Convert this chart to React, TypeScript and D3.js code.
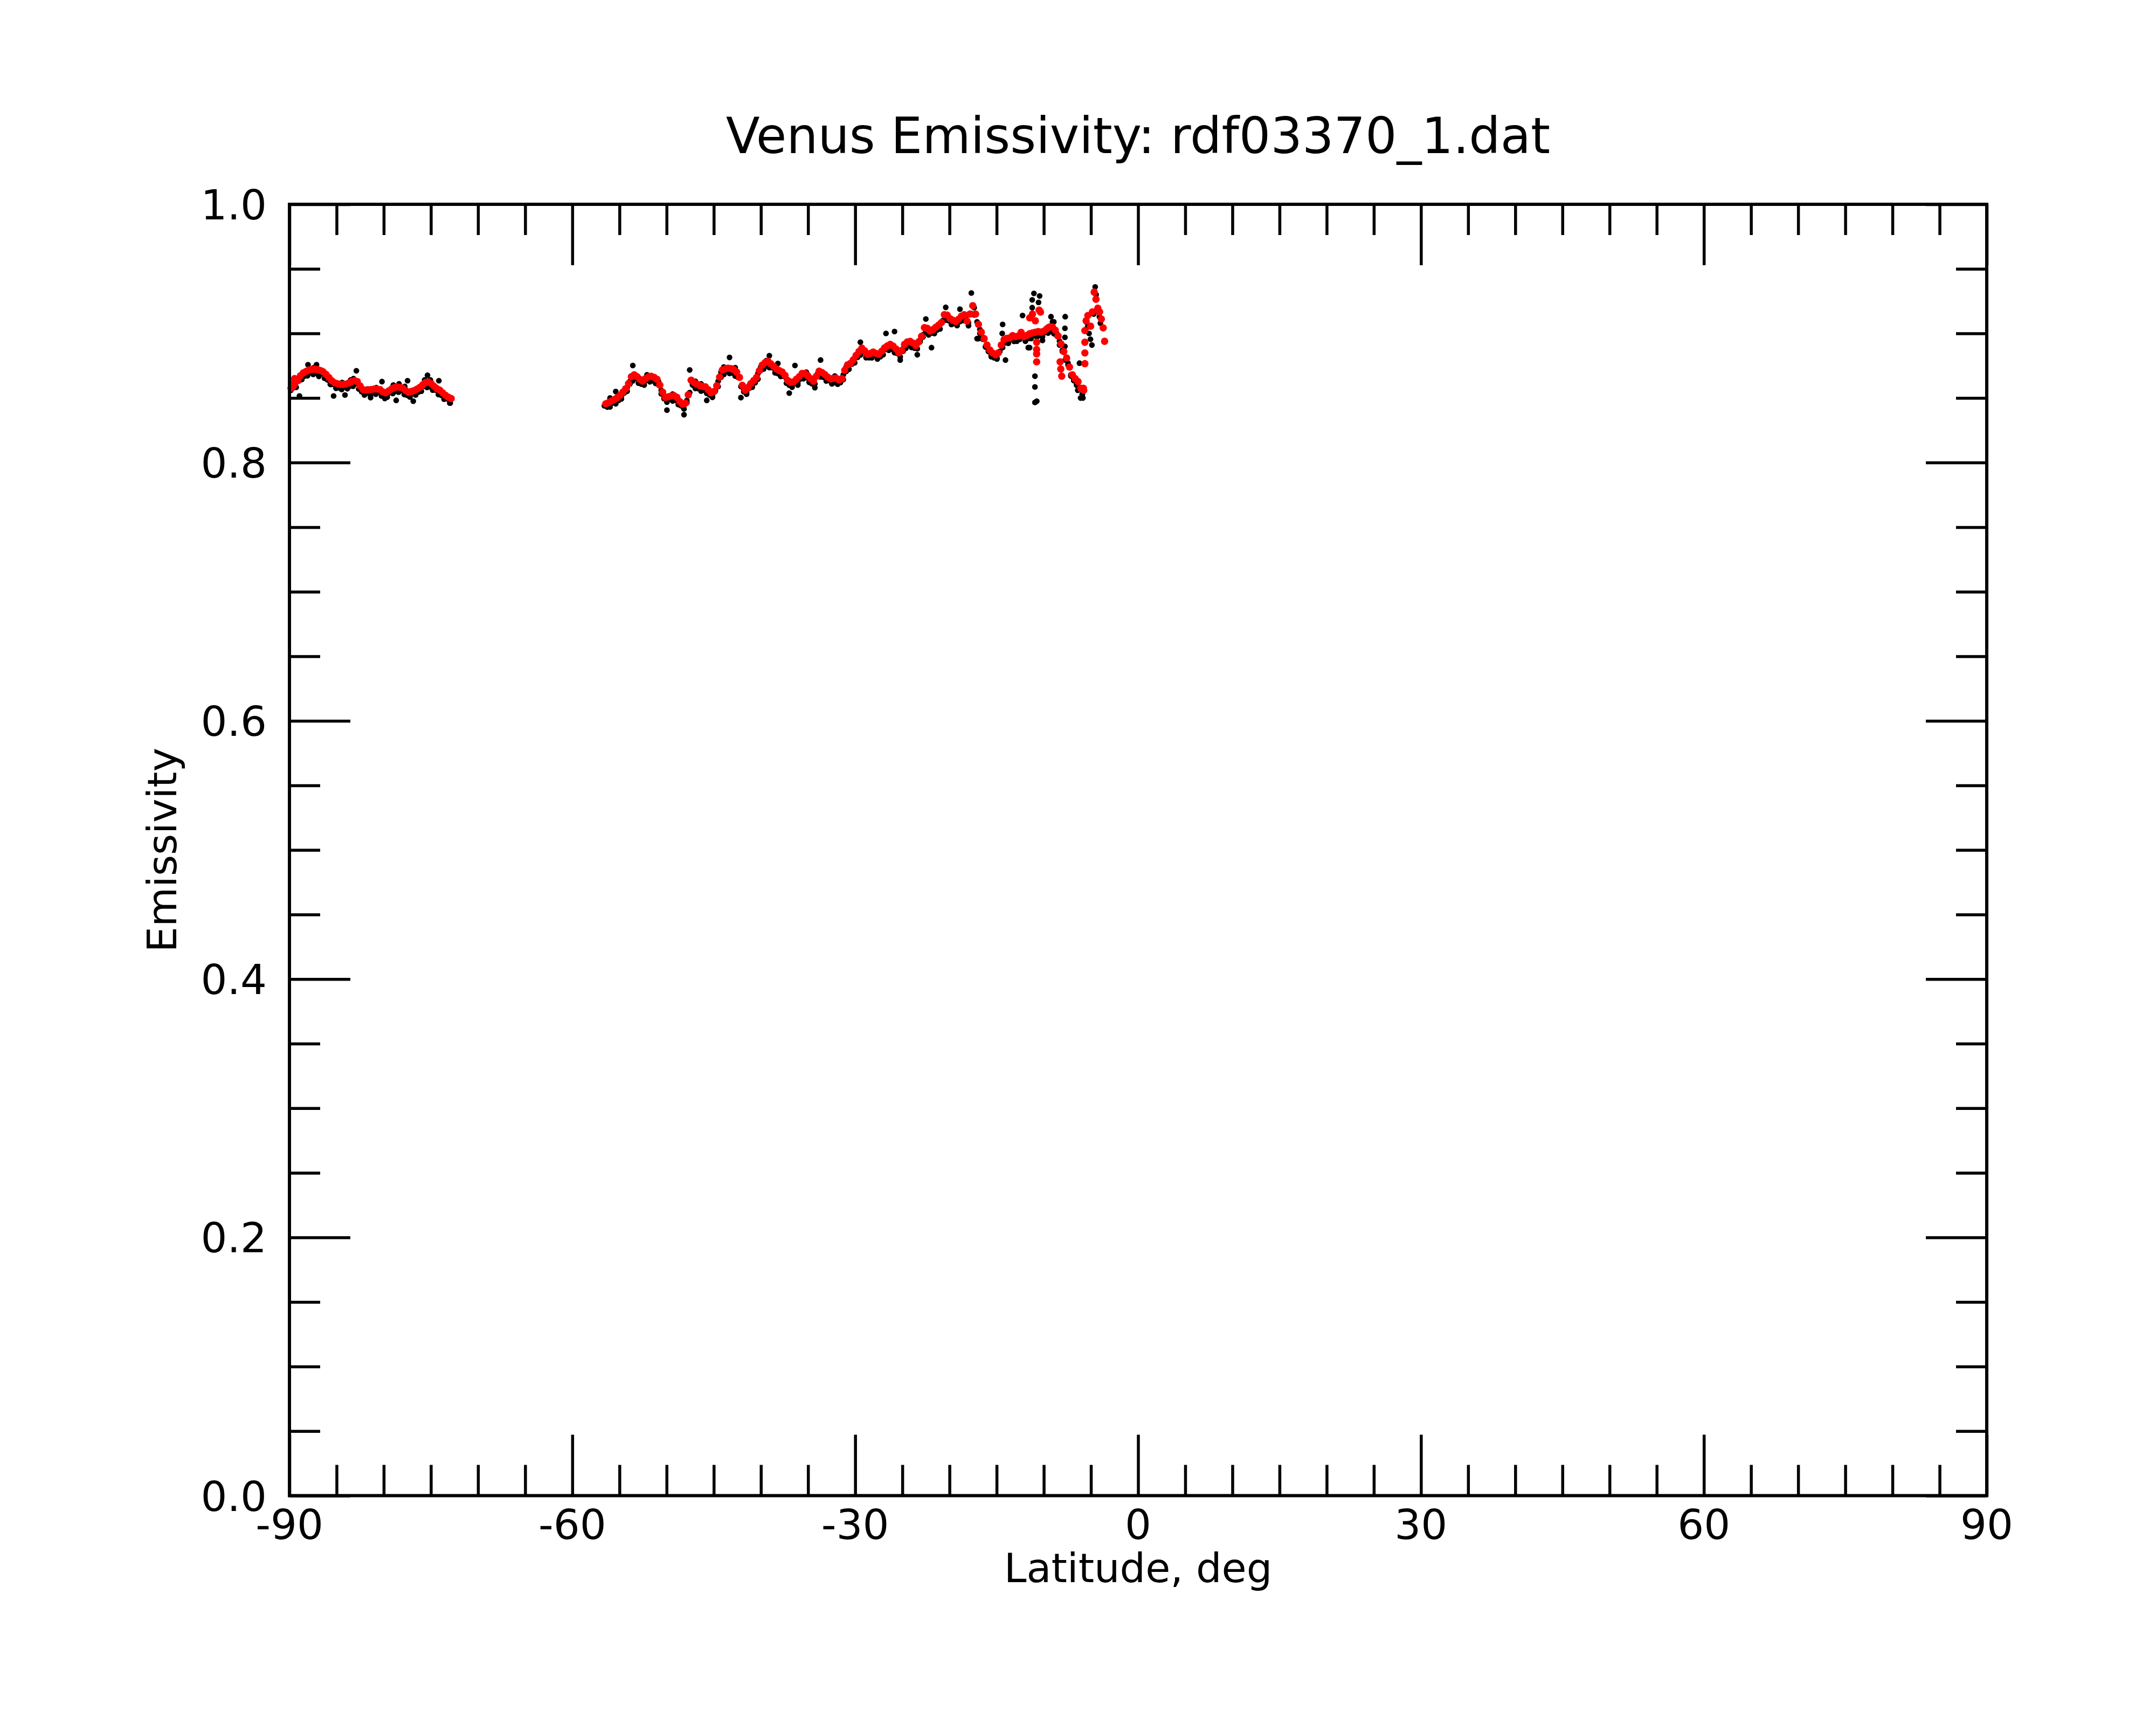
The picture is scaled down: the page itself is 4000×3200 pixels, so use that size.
import { useEffect, useRef } from "react";
import * as d3 from "d3";

// sampling of the emissivity profile (deg latitude)
const LAT_STEP = 0.3017;
const SOUTH_BLACK_START = -89.842;
const SOUTH_RED_START = -89.742;
const SOUTH_SHADOW_START = -89.591;
const MID_BLACK_START = -56.604;
const MID_RED_START = -56.453;
const MID_SHADOW_START = -56.302;

// raw emissivity, south polar segment
const southRaw = [
  0.856, 0.8625, 0.864, 0.8516, 0.868, 0.87, 0.8758, 0.8705, 0.8735, 0.8758,
  0.869, 0.8712, 0.867, 0.864, 0.8605, 0.8516, 0.86, 0.859, 0.862, 0.8523,
  0.86, 0.864, 0.865, 0.8711, 0.86, 0.8555, 0.854, 0.857, 0.8503, 0.856,
  0.858, 0.855, 0.8627, 0.8496, 0.853, 0.856, 0.86, 0.8482, 0.861, 0.857,
  0.859, 0.8634, 0.853, 0.8475, 0.8545, 0.856, 0.859, 0.864, 0.8676, 0.864,
  0.86, 0.8575, 0.8634, 0.853, 0.852, 0.8495, 0.8461,
];

// raw emissivity lying just under the smoothed curve, south polar segment
const southShadow = [
  0.8579, 0.8583, 0.8633, 0.8643, 0.867, 0.8672, 0.8699, 0.8683, 0.8692, 0.8667,
  0.8688, 0.8653, 0.8641, 0.8607, 0.8606, 0.8575, 0.8579, 0.8566, 0.8587, 0.8572,
  0.8592, 0.8591, 0.8611, 0.857, 0.8549, 0.8523, 0.8542, 0.8525, 0.8538, 0.853,
  0.8547, 0.8516, 0.8514, 0.8507, 0.8542, 0.8535, 0.8553, 0.8545, 0.856, 0.8527,
  0.8521, 0.8508, 0.8534, 0.8523, 0.8546, 0.8553, 0.8591, 0.8582, 0.8587, 0.8561,
  0.8561, 0.8527, 0.8521, 0.8491, 0.8494, 0.8461,
];

// smoothed emissivity, south polar segment
const southSmooth = [
  0.8606, 0.8611, 0.8634, 0.8672, 0.8694, 0.8706, 0.8717, 0.8721, 0.8724, 0.872,
  0.8713, 0.8703, 0.8683, 0.8659, 0.8634, 0.8618, 0.8611, 0.8606, 0.8605, 0.8608,
  0.8616, 0.8627, 0.8634, 0.8627, 0.8593, 0.8565, 0.8561, 0.8563, 0.8566, 0.857,
  0.8569, 0.8565, 0.8547, 0.854, 0.8554, 0.8569, 0.858, 0.8586, 0.8583, 0.8576,
  0.8558, 0.8544, 0.8551, 0.8557, 0.8569, 0.8583, 0.8602, 0.862, 0.8623, 0.8611,
  0.859, 0.8572, 0.8561, 0.854, 0.8521, 0.8506, 0.8496,
];

// raw emissivity, mid-latitude segment
const midRaw = [
  0.844, 0.8455, 0.85, 0.847, 0.855, 0.8495, 0.8515, 0.856, 0.858, 0.863,
  0.8752, 0.866, 0.864, 0.861, 0.8625, 0.868, 0.865, 0.8665, 0.862, 0.863,
  0.856, 0.85, 0.8406, 0.8495, 0.853, 0.849, 0.847, 0.844, 0.8371, 0.848,
  0.8717, 0.86, 0.863, 0.8575, 0.861, 0.856, 0.8482, 0.855, 0.852, 0.856,
  0.863, 0.87, 0.874, 0.871, 0.8814, 0.87, 0.8735, 0.866, 0.8503, 0.857,
  0.8545, 0.86, 0.862, 0.865, 0.869, 0.874, 0.876, 0.879, 0.8828, 0.874,
  0.872, 0.8767, 0.869, 0.868, 0.865, 0.8538, 0.861, 0.8752, 0.86, 0.867,
  0.868, 0.87, 0.864, 0.862, 0.858, 0.869, 0.8794, 0.868, 0.865, 0.864,
  0.861, 0.867, 0.863, 0.862, 0.868, 0.874, 0.876, 0.877, 0.881, 0.884,
  0.8932, 0.886, 0.882, 0.883, 0.884, 0.883, 0.881, 0.884, 0.887, 0.9,
  0.89, 0.891, 0.9015, 0.886, 0.8794, 0.888, 0.892, 0.893, 0.892, 0.89,
  0.8835, 0.895, 0.899, 0.9112, 0.901, 0.889, 0.903, 0.904, 0.907, 0.91,
  0.9202, 0.913, 0.909, 0.908, 0.9085, 0.9188, 0.913, 0.913, 0.906, 0.9313,
  0.92, 0.896, 0.903, 0.897, 0.89, 0.886, 0.883, 0.882, 0.881, 0.886,
  0.907, 0.8794, 0.895, 0.896, 0.898, 0.894, 0.899, 0.9139, 0.896, 0.889,
  0.9, 0.931, 0.8475, 0.929, 0.8946, 0.902, 0.905, 0.913, 0.909, 0.9,
  0.894, 0.887, 0.913, 0.877, 0.868, 0.864, 0.861, 0.877, 0.853,
];

// raw emissivity lying just under the smoothed curve, mid-latitude segment
const midShadow = [
  0.843, 0.8431, 0.8463, 0.8455, 0.8481, 0.8493, 0.8539, 0.8552, 0.8609, 0.8633,
  0.8653, 0.8615, 0.8608, 0.86, 0.8637, 0.8626, 0.8634, 0.8613, 0.8603, 0.8533,
  0.8495, 0.8468, 0.8493, 0.8477, 0.8482, 0.8449, 0.8442, 0.8416, 0.8463, 0.8542,
  0.8609, 0.8574, 0.8573, 0.8554, 0.8569, 0.8536, 0.8523, 0.8505, 0.8553, 0.8589,
  0.866, 0.8682, 0.8709, 0.869, 0.8694, 0.867, 0.866, 0.8589, 0.8549, 0.853,
  0.8576, 0.8584, 0.8618, 0.8646, 0.8714, 0.8725, 0.875, 0.8735, 0.8735, 0.8695,
  0.8689, 0.8667, 0.8669, 0.8615, 0.8599, 0.8584, 0.8615, 0.8615, 0.8648, 0.865,
  0.8661, 0.8621, 0.861, 0.8609, 0.8668, 0.8663, 0.866, 0.8632, 0.8635, 0.861,
  0.8623, 0.8607, 0.8625, 0.8643, 0.8706, 0.8723, 0.8762, 0.8773, 0.8815, 0.8833,
  0.8856, 0.8812, 0.8812, 0.8811, 0.8831, 0.8802, 0.882, 0.8835, 0.8876, 0.887,
  0.8879, 0.8851, 0.8845, 0.8819, 0.8862, 0.8885, 0.8916, 0.8892, 0.8886, 0.8881,
  0.8937, 0.8972, 0.9013, 0.8989, 0.9004, 0.8999, 0.9027, 0.9035, 0.9095, 0.9104,
  0.9099, 0.9069, 0.9077, 0.9061, 0.9092, 0.91, 0.91, 0.9083, 0.9153, 0.9143,
  0.909, 0.9, 0.8955, 0.8895, 0.8871, 0.882, 0.8811, 0.8802, 0.886, 0.8891,
  0.8927, 0.8924, 0.8955, 0.8939, 0.8948, 0.8954, 0.8972, 0.894, 0.8961, 0.8961,
  0.8987, 0.8972, 0.8983, 0.8974, 0.9007, 0.9003, 0.902, 0.8998, 0.8983, 0.891,
  0.886, 0.8795, 0.8755, 0.867, 0.8635, 0.8599, 0.8581, 0.8528,
];

// smoothed emissivity, mid-latitude segment
const midSmooth = [
  0.8455, 0.8465, 0.8477, 0.8488, 0.8502, 0.852, 0.8545, 0.8572, 0.8612, 0.8665,
  0.868, 0.8665, 0.8645, 0.863, 0.865, 0.8664, 0.8668, 0.866, 0.8645, 0.86,
  0.8545, 0.8505, 0.851, 0.8516, 0.8518, 0.8505, 0.8472, 0.8452, 0.846, 0.8525,
  0.8638, 0.862, 0.8608, 0.8597, 0.859, 0.8587, 0.8565, 0.854, 0.855, 0.8595,
  0.8662, 0.8717, 0.8726, 0.8731, 0.8728, 0.872, 0.87, 0.866, 0.8598, 0.856,
  0.858, 0.8612, 0.8635, 0.866, 0.8712, 0.8755, 0.8775, 0.8785, 0.8765, 0.8745,
  0.8725, 0.8712, 0.8702, 0.8675, 0.8635, 0.8622, 0.8625, 0.8645, 0.8665, 0.869,
  0.869, 0.8672, 0.865, 0.863, 0.8668, 0.8708, 0.8697, 0.8682, 0.8662, 0.8648,
  0.8652, 0.8654, 0.864, 0.865, 0.8715, 0.8757, 0.8768, 0.8795, 0.883, 0.886,
  0.8886, 0.8865, 0.8838, 0.8845, 0.8856, 0.8845, 0.8838, 0.8862, 0.8888, 0.8904,
  0.8915, 0.8902, 0.888, 0.885, 0.8868, 0.8915, 0.8934, 0.8938, 0.8925, 0.8906,
  0.8935, 0.8978, 0.9045, 0.904, 0.9018, 0.903, 0.9048, 0.9065, 0.9085, 0.9145,
  0.9142, 0.9115, 0.9102, 0.9091, 0.911, 0.9134, 0.9145, 0.9095, 0.915, 0.9215,
  0.915, 0.907, 0.901, 0.896, 0.891, 0.8872, 0.8848, 0.8834, 0.885, 0.891,
  0.8952, 0.8962, 0.8966, 0.8983, 0.8975, 0.898, 0.9008, 0.8975, 0.8984, 0.8998,
  0.9004, 0.9009, 0.9015, 0.901, 0.9018, 0.9035, 0.905, 0.905, 0.9025, 0.898,
  0.892, 0.886, 0.881, 0.874, 0.868, 0.865, 0.8627, 0.8575, 0.856,
];

// scattered raw values off the regular sampling
const extraRawLat = [
  -11.23, -11.23, -10.56, -10.94, -10.94, -10.94, -7.76, -7.76, -7.76, -6.1,
  -5.85, -6.4, -5.45, -5.35, -5.2, -5.05, -4.9, -4.7, -4.55, -4.45,
  -4.3, -4.1, -4.0, -9.08, -11.5, -14.41, -16.93,
];
const extraRawVal = [
  0.926, 0.92, 0.924, 0.8669, 0.8586, 0.8466, 0.904, 0.897, 0.89, 0.85,
  0.85, 0.856, 0.9085, 0.905, 0.9, 0.8955, 0.891, 0.915, 0.936, 0.93,
  0.92, 0.913, 0.908, 0.909, 0.889, 0.9, 0.896,
];

// scattered smoothed values off the regular sampling
const extraSmoothLat = [
  -89.83, -89.6, -89.45, -11.5, -11.2, -10.5, -10.35, -10.9, -10.76, -10.76,
  -10.76, -10.76, -8.27, -8.2, -8.1, -5.8, -5.645, -5.645, -5.645, -5.645,
  -5.514, -5.325, -5.039, -4.845, -4.657, -4.468, -4.273, -4.085, -3.896, -3.702,
  -3.553,
];
const extraSmoothVal = [
  0.8575, 0.859, 0.865, 0.912, 0.915, 0.9181, 0.9165, 0.9098, 0.8932, 0.8876,
  0.8842, 0.878, 0.878, 0.8724, 0.8669, 0.8575, 0.9022, 0.8932, 0.8849, 0.8766,
  0.9098, 0.9139, 0.9056, 0.9167, 0.932, 0.9264, 0.9195, 0.9167, 0.9112, 0.9043,
  0.8939,
];

const xMajorTicks = [-90, -60, -30, 0, 30, 60, 90];
const yMajorTicks = [0, 0.2, 0.4, 0.6, 0.8, 1.0];

type Pt = { lat: number; val: number };

const gridPoints = (start: number, vals: number[]): Pt[] =>
  vals.map((v, i) => ({ lat: start + i * LAT_STEP, val: v }));

const pairPoints = (lats: number[], vals: number[]): Pt[] =>
  lats.map((l, i) => ({ lat: l, val: vals[i] }));

export default function App() {
  const svgRef = useRef<SVGSVGElement>(null);

  useEffect(() => {
    if (!svgRef.current) return;
    document.body.style.margin = "0";

    const W = 4000;
    const H = 3200;
    const margin = { top: 379, right: 314, bottom: 425.5, left: 537 };
    const w = W - margin.left - margin.right;
    const h = H - margin.top - margin.bottom;
    const font = "DejaVu Sans";

    const root = d3.select(svgRef.current);
    root.selectAll("*").remove();
    root.attr("width", W).attr("height", H);
    root.append("rect").attr("width", W).attr("height", H).attr("fill", "#fff");

    const svg = root
      .append("g")
      .attr("transform", `translate(${margin.left},${margin.top})`);

    const x = d3.scaleLinear().domain([-90, 90]).range([0, w]);
    const y = d3.scaleLinear().domain([0, 1]).range([h, 0]);

    const rawPts = [
      ...gridPoints(SOUTH_BLACK_START, southRaw),
      ...gridPoints(SOUTH_SHADOW_START, southShadow),
      ...gridPoints(MID_BLACK_START, midRaw),
      ...gridPoints(MID_SHADOW_START, midShadow),
      ...pairPoints(extraRawLat, extraRawVal),
    ];
    const smoothPts = [
      ...gridPoints(SOUTH_RED_START, southSmooth),
      ...gridPoints(MID_RED_START, midSmooth),
      ...pairPoints(extraSmoothLat, extraSmoothVal),
    ];

    // raw points (black) then smoothed (red)
    svg
      .append("g")
      .selectAll("circle")
      .data(rawPts)
      .enter()
      .append("circle")
      .attr("cx", (d) => x(d.lat))
      .attr("cy", (d) => y(d.val))
      .attr("r", 5.3)
      .attr("fill", "#000");

    svg
      .append("g")
      .selectAll("circle")
      .data(smoothPts)
      .enter()
      .append("circle")
      .attr("cx", (d) => x(d.lat))
      .attr("cy", (d) => y(d.val))
      .attr("r", 6.8)
      .attr("fill", "#ff0000");

    // ticks on all four sides, pointing inward
    const xMinor = d3.range(-90, 90.1, 5).filter((v) => v % 30 !== 0);
    const yMinor = d3.range(0, 1.001, 0.05).filter((v) => Math.round(v * 100) % 20 !== 0);
    const major = 113;
    const minor = 57;

    const addAxis = (axis: d3.Axis<d3.NumberValue>, tx: number, ty: number) => {
      const g = svg
        .append("g")
        .attr("transform", `translate(${tx},${ty})`)
        .call(axis);
      g.select(".domain").remove();
      g.selectAll("text").remove();
      g.selectAll("line").attr("stroke", "#000").attr("stroke-width", 5.5);
    };

    addAxis(d3.axisBottom(x).tickValues(xMinor).tickSize(-minor), 0, h);
    addAxis(d3.axisBottom(x).tickValues(xMajorTicks).tickSize(-major), 0, h);
    addAxis(d3.axisTop(x).tickValues(xMinor).tickSize(-minor), 0, 0);
    addAxis(d3.axisTop(x).tickValues(xMajorTicks).tickSize(-major), 0, 0);
    addAxis(d3.axisLeft(y).tickValues(yMinor).tickSize(-minor), 0, 0);
    addAxis(d3.axisLeft(y).tickValues(yMajorTicks).tickSize(-major), 0, 0);
    addAxis(d3.axisRight(y).tickValues(yMinor).tickSize(-minor), w, 0);
    addAxis(d3.axisRight(y).tickValues(yMajorTicks).tickSize(-major), w, 0);

    // frame
    svg
      .append("rect")
      .attr("width", w)
      .attr("height", h)
      .attr("fill", "none")
      .attr("stroke", "#000")
      .attr("stroke-width", 6);

    // tick labels
    svg
      .append("g")
      .selectAll("text")
      .data(xMajorTicks)
      .enter()
      .append("text")
      .attr("x", (d) => x(d))
      .attr("y", h + 80)
      .attr("text-anchor", "middle")
      .attr("font-family", font)
      .attr("font-size", 77)
      .text((d) => String(d));

    svg
      .append("g")
      .selectAll("text")
      .data(yMajorTicks)
      .enter()
      .append("text")
      .attr("x", -42)
      .attr("y", (d) => y(d) + 28)
      .attr("text-anchor", "end")
      .attr("font-family", font)
      .attr("font-size", 77)
      .text((d) => d.toFixed(1));

    // axis titles
    svg
      .append("text")
      .attr("x", w / 2)
      .attr("y", h + 160)
      .attr("text-anchor", "middle")
      .attr("font-family", font)
      .attr("font-size", 75)
      .text("Latitude, deg");

    svg
      .append("text")
      .attr("transform", `translate(${327 - margin.left},${h / 2}) rotate(-90)`)
      .attr("text-anchor", "middle")
      .attr("font-family", font)
      .attr("font-size", 75)
      .text("Emissivity");

    svg
      .append("text")
      .attr("x", w / 2)
      .attr("y", 284 - margin.top)
      .attr("text-anchor", "middle")
      .attr("font-family", font)
      .attr("font-size", 92)
      .text("Venus Emissivity: rdf03370_1.dat");
  }, []);

  return (
    <div style={{ position: "absolute", left: 0, top: 0 }}>
      <svg ref={svgRef} style={{ display: "block" }}></svg>
    </div>
  );
}
